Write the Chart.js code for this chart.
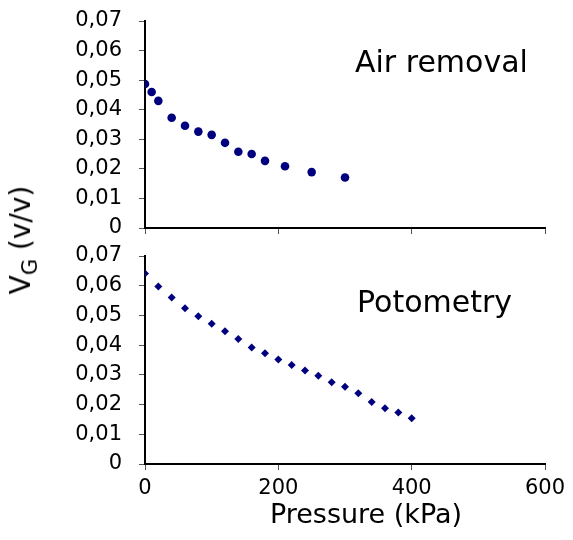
<!DOCTYPE html>
<html>
<head>
<meta charset="utf-8">
<script src="https://cdn.jsdelivr.net/npm/chart.js@4/dist/chart.umd.min.js"></script>
<style>
  html, body { margin: 0; padding: 0; background: #fff; }
  body { width: 573px; height: 540px; position: relative; overflow: hidden; }
  canvas { position: absolute; left: 0; }
  #c1 { top: 0; }
  #c2 { top: 240px; }
  #ylab {
    position: absolute; left: 24px; top: 240px;
    transform: translate(-50%, -50%) rotate(-90deg);
    font-family: "DejaVu Sans", sans-serif; font-size: 28px; color: #000;
    white-space: nowrap; line-height: 1;
  }
  #ylab sub { font-size: 21px; vertical-align: -7px; }
</style>
</head>
<body>
<canvas id="c1" width="573" height="240"></canvas>
<canvas id="c2" width="573" height="300"></canvas>
<div id="ylab">V<sub>G</sub> (v/v)</div>
<script>
// ---- data ----
const airPressure = [0, 10, 20, 40, 60, 80, 100, 120, 140, 160, 180, 210, 250, 300];
const airVG = [0.0487, 0.046, 0.043, 0.0373, 0.0346, 0.0326, 0.0315, 0.0288, 0.0258, 0.025, 0.0227, 0.0209, 0.0189, 0.0171];
const potoPressure = [0, 20, 40, 60, 80, 100, 120, 140, 160, 180, 200, 220, 240, 260, 280, 300, 320, 340, 360, 380, 400];
const potoVG = [0.0641, 0.0597, 0.056, 0.0524, 0.0497, 0.0472, 0.0447, 0.0421, 0.0392, 0.0373, 0.0352, 0.0333, 0.0315, 0.0297, 0.0275, 0.026, 0.0238, 0.0209, 0.0188, 0.0173, 0.0154];
const yTickLabels = ['0', '0,01', '0,02', '0,03', '0,04', '0,05', '0,06', '0,07'];
const xTickLabels = ['0', '200', '400', '600'];
const panelLabels = ['Air removal', 'Potometry'];
const xTitle = 'Pressure (kPa)';

const NAVY = '#00007f';
const tickFont = { family: '"DejaVu Sans", sans-serif', size: 21 };

function toPts(xs, ys) { return xs.map((x, i) => ({ x: x, y: ys[i] })); }

function textPlugin(items) {
  return {
    id: 'texts',
    afterDraw(chart) {
      const ctx = chart.ctx, a = chart.chartArea;
      ctx.save();
      ctx.fillStyle = '#000';
      items.forEach(t => {
        ctx.font = t.font;
        ctx.textAlign = t.align || 'left';
        ctx.textBaseline = 'alphabetic';
        const x = t.abs ? t.x : a.left + t.fx * (a.right - a.left);
        const y = t.abs ? t.y : a.top + t.fy * (a.bottom - a.top);
        ctx.fillText(t.text, x, y);
      });
      ctx.restore();
    }
  };
}

function makeOptions(showX, xHeight, padTop) {
  return {
    responsive: false,
    animation: false,
    devicePixelRatio: 1,
    layout: { padding: { left: 0, right: 28, top: padTop, bottom: 0 } },
    plugins: { legend: { display: false }, tooltip: { enabled: false }, title: { display: false } },
    scales: {
      x: {
        type: 'linear', min: 0, max: 600,
        afterFit(s) { s.height = xHeight; s.paddingLeft = 0; s.paddingRight = 0; },
        border: { display: true, color: '#000', width: 2 },
        grid: { drawOnChartArea: false, drawTicks: true, tickLength: 6, color: '#555', lineWidth: 1 },
        ticks: {
          stepSize: 200, color: '#000', font: tickFont, padding: 6, maxRotation: 0,
          callback: (v, i) => showX ? xTickLabels[i] : ''
        }
      },
      y: {
        type: 'linear', min: 0, max: 0.07,
        afterFit(s) { s.width = 145; s.paddingTop = 0; s.paddingBottom = 0; },
        border: { display: true, color: '#000', width: 2 },
        grid: { drawOnChartArea: false, drawTicks: true, tickLength: 6, color: '#555', lineWidth: 1 },
        ticks: {
          stepSize: 0.01, color: '#000', font: tickFont, padding: 17,
          callback: (v, i) => yTickLabels[i]
        }
      }
    }
  };
}

new Chart(document.getElementById('c1'), {
  type: 'scatter',
  data: {
    datasets: [{
      data: toPts(airPressure, airVG),
      pointStyle: 'circle', pointRadius: 4.3,
      backgroundColor: NAVY, borderColor: NAVY, borderWidth: 0
    }]
  },
  options: makeOptions(false, 12, 21),
  plugins: [textPlugin([
    { text: panelLabels[0], fx: 0.525, fy: 0.245, font: '30px "DejaVu Sans", sans-serif' }
  ])]
});

new Chart(document.getElementById('c2'), {
  type: 'scatter',
  data: {
    datasets: [{
      data: toPts(potoPressure, potoVG),
      pointStyle: 'rectRot', pointRadius: 4,
      backgroundColor: NAVY, borderColor: NAVY, borderWidth: 0
    }]
  },
  options: makeOptions(true, 76, 16),
  plugins: [textPlugin([
    { text: panelLabels[1], fx: 0.53, fy: 0.27, font: '30px "DejaVu Sans", sans-serif' },
    { text: xTitle, abs: true, x: 366, y: 283, align: 'center', font: '27px "DejaVu Sans", sans-serif' }
  ])]
});
</script>
</body>
</html>
